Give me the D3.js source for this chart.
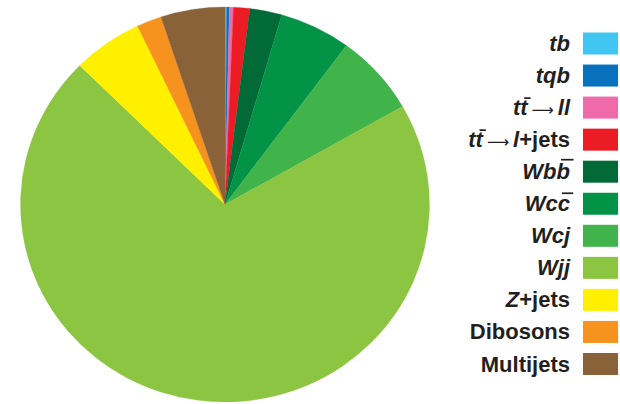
<!DOCTYPE html>
<html>
<head>
<meta charset="utf-8">
<script src="https://cdn.jsdelivr.net/npm/d3@7"></script>
<style>
  html, body { margin: 0; padding: 0; background: #fff; }
  svg { display: block; }
</style>
</head>
<body>
<svg id="chart" width="620" height="404"></svg>
<script>
// Sample composition by process (share of events, %)
const categories = ["tb", "tqb", "ttbar_ll", "ttbar_ljets", "Wbb", "Wcc", "Wcj", "Wjj", "Zjets", "Dibosons", "Multijets"];
const shares = [0.13, 0.21, 0.32, 1.28, 2.54, 5.64, 6.61, 70.70, 5.53, 1.97, 5.07];
const colors = ["#41c5f1", "#0871bd", "#ef6aa8", "#ec1c25", "#016a37", "#029347", "#40b44b", "#8cc541", "#fff000", "#f6931f", "#8a6239"];

// Legend labels: runs of [text, style]; "^" marks an overbar on the preceding letter
const labelParts = [
  [["tb", "i"]],
  [["tqb", "i"]],
  [["tt^", "i"], ["\u27F6", "arrow"], ["ll", "i"]],
  [["tt^", "i"], ["\u27F6", "arrow"], ["l", "i"], ["+jets", "b"]],
  [["Wbb^", "i"]],
  [["Wcc^", "i"]],
  [["Wcj", "i"]],
  [["Wjj", "i"]],
  [["Z", "i"], ["+jets", "b"]],
  [["Dibosons", "b"]],
  [["Multijets", "b"]]
];

const svg = d3.select("#chart");

// Pie (drawn slightly wider than tall)
const rx = 204.5, ry = 197.5;
const pie = d3.pie().sort(null).value(d => d)(shares);
const arc = d3.arc().innerRadius(0).outerRadius(rx);

svg.append("g")
  .attr("transform", `translate(225,204.5) scale(1,${ry / rx})`)
  .selectAll("path")
  .data(pie)
  .join("path")
  .attr("d", arc)
  .attr("fill", (d, i) => colors[i])
  .attr("stroke", (d, i) => colors[i])
  .attr("stroke-width", 0.3);

// Legend
const rowY = d3.scalePoint().domain(categories).range([43.5, 364]);
const legend = svg.append("g");

const rows = legend.selectAll("g.row")
  .data(categories)
  .join("g")
  .attr("class", "row")
  .attr("transform", d => `translate(0,${rowY(d)})`);

rows.append("rect")
  .attr("x", 583)
  .attr("y", -11)
  .attr("width", 35)
  .attr("height", 22)
  .attr("fill", (d, i) => colors[i]);

const ink = "#231f20";
const baseY = 7.5;
rows.each(function (d, i) {
  const row = d3.select(this);
  const text = row.append("text")
    .attr("x", 570)
    .attr("y", baseY)
    .attr("text-anchor", "end")
    .attr("font-family", "Liberation Sans, Arial, sans-serif")
    .attr("font-weight", "bold")
    .attr("font-size", 22)
    .attr("fill", ink);

  const bars = [];
  let idx = 0;
  let afterArrow = false;
  labelParts[i].forEach(([txt, style]) => {
    let plain = "";
    for (const ch of txt) {
      if (ch === "^") { bars.push({ ci: idx - 1, ch: plain[plain.length - 1] }); continue; }
      plain += ch; idx++;
    }
    const ts = text.append("tspan").text(plain);
    if (style === "i") ts.attr("font-style", "italic");
    if (afterArrow) ts.attr("dx", 4);
    afterArrow = false;
    if (style === "arrow") {
      ts.attr("font-family", "DejaVu Sans, sans-serif")
        .attr("font-weight", "normal")
        .attr("font-size", 15.5)
        .attr("dx", 4);
      afterArrow = true;
    }
  });

  // overbars above the marked letters
  const node = text.node();
  bars.forEach(({ ci, ch }) => {
    const e = node.getExtentOfChar(ci);
    const rise = ch === "t" ? 17 : (ch === "c" ? 18 : 19.5);
    const skew = rise * 0.2;
    row.append("line")
      .attr("x1", e.x + skew + 0.6)
      .attr("x2", e.x + e.width + skew - 0.4)
      .attr("y1", baseY - rise).attr("y2", baseY - rise)
      .attr("stroke", ink)
      .attr("stroke-width", 1.7);
  });
});
</script>
</body>
</html>
